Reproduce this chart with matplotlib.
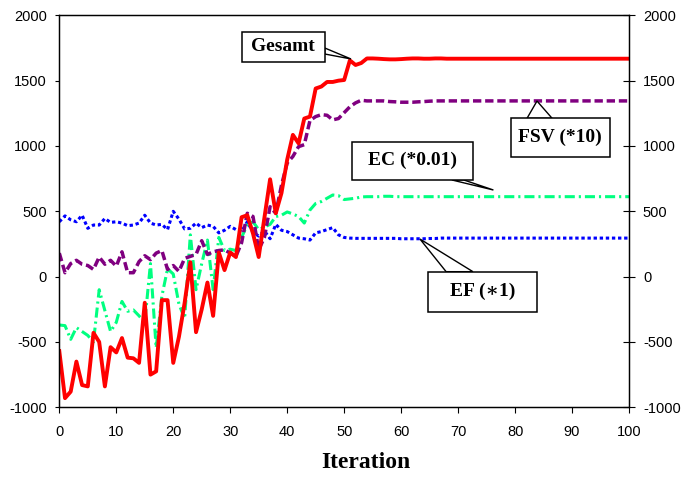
import matplotlib
matplotlib.use("Agg")
import matplotlib.pyplot as plt
from matplotlib.patches import Rectangle, Polygon
import numpy as np

plt.rcParams['axes.unicode_minus'] = False

iterations = np.arange(0, 101)

gesamt = [-570, -930, -880, -650, -830, -840, -430, -500, -840, -540,
          -580, -470, -620, -625, -660, -200, -750, -725, -180, -180,
          -660, -460, -200, 110, -425, -250, -45, -300, 185, 50,
          185, 150, 455, 470, 330, 150, 450, 745, 485, 640,
          895, 1085, 1020, 1210, 1225, 1440, 1455, 1490, 1490, 1500,
          1505, 1655, 1620, 1635, 1670, 1670, 1668, 1665, 1663, 1663,
          1665, 1668, 1670, 1670, 1668, 1668, 1670, 1670, 1668, 1668,
          1668, 1668, 1668, 1668, 1668, 1668, 1668, 1668, 1668, 1668,
          1668, 1668, 1668, 1668, 1668, 1668, 1668, 1668, 1668, 1668,
          1668, 1668, 1668, 1668, 1668, 1668, 1668, 1668, 1668, 1668,
          1668]

fsv = [180, 30, 100, 125, 95, 85, 55, 150, 95, 125,
       80, 190, 30, 30, 115, 160, 130, 180, 200, 55,
       85, 40, 140, 155, 170, 275, 170, 190, 200, 205,
       180, 155, 260, 485, 460, 205, 300, 535, 485, 700,
       870, 920, 995, 1010, 1195, 1225, 1240, 1235, 1200, 1210,
       1255, 1300, 1330, 1350, 1345, 1345, 1345, 1345, 1340, 1338,
       1335, 1335, 1335, 1338, 1340, 1343, 1345, 1345, 1345, 1345,
       1345, 1345, 1345, 1345, 1345, 1345, 1345, 1345, 1345, 1345,
       1345, 1345, 1345, 1345, 1345, 1345, 1345, 1345, 1345, 1345,
       1345, 1345, 1345, 1345, 1345, 1345, 1345, 1345, 1345, 1345,
       1345]

ec = [-370, -375, -480, -390, -420, -450, -500, -100, -260, -420,
      -350, -190, -265, -255, -300, -350, 100, -545, -150, 60,
      20, -210, -320, 320, -100, 100, 280, -100, 300, 200,
      210, 200, 300, 400, 420, 360, 380, 400, 460, 470,
      495, 480, 460, 410, 510, 560, 575, 600, 625, 620,
      590, 595, 600, 610, 612, 612, 612, 615, 615, 612,
      612, 612, 612, 612, 612, 612, 612, 612, 612, 612,
      612, 612, 612, 612, 612, 612, 612, 612, 612, 612,
      612, 612, 612, 612, 612, 612, 612, 612, 612, 612,
      612, 612, 612, 612, 612, 612, 612, 612, 612, 612,
      612]

ef = [420, 465, 435, 420, 470, 370, 395, 395, 445, 415,
      420, 410, 390, 395, 410, 470, 410, 395, 400, 360,
      500, 440, 365, 370, 410, 375, 395, 385, 335, 355,
      385, 360, 345, 420, 340, 310, 350, 290, 400, 355,
      345, 320, 295, 290, 280, 335, 345, 360, 375, 320,
      300, 295, 293, 293, 293, 293, 293, 293, 293, 293,
      290, 290, 290, 290, 290, 292, 292, 295, 295, 295,
      295, 295, 295, 295, 295, 295, 295, 295, 295, 295,
      295, 295, 295, 295, 295, 295, 295, 295, 295, 295,
      295, 295, 295, 295, 295, 295, 295, 295, 295, 295,
      295]

y_ticks = [-1000, -500, 0, 500, 1000, 1500, 2000]
x_ticks = list(range(0, 101, 10))

# callout boxes (x0, x1, y0, y1) and wedge (base1, base2, tip), data units
labels = ['Gesamt', 'FSV (*10)', 'EC (*0.01)', 'EF (\u22171)']
boxes = [(32.0, 46.6, 1645, 1875),
         (79.2, 96.7, 918, 1212),
         (51.3, 72.6, 740, 1033),
         (64.7, 83.9, -268, 38)]
wedges = [((46.6, 1750), (46.6, 1704), (51.2, 1666)),
          ((82.1, 1212), (86.5, 1212), (83.85, 1344)),
          ((68.9, 740), (71.0, 740), (76.2, 663)),
          ((67.9, 38), (72.6, 38), (63.3, 288))]

fig = plt.figure(figsize=(6.84, 4.79), dpi=100)
ax = fig.add_axes([0.0867, 0.1497, 0.8329, 0.8183])

ax.plot(iterations, ef, color='#0000ff', lw=2.2, linestyle=(0, (1.1, 0.9)),
        dash_capstyle='butt')
ax.plot(iterations, ec, color='#00ff80', lw=2.2,
        linestyle=(0, (3.3, 1.3, 0.7, 1.3)))
ax.plot(iterations, fsv, color='#800080', lw=2.5, linestyle=(0, (2.4, 1.1)))
ax.plot(iterations, gesamt, color='#ff0000', lw=2.8)

ax.set_xlim(0, 100)
ax.set_ylim(-1000, 2000)
ax.set_xticks(x_ticks)
ax.set_yticks(y_ticks)

for s in ax.spines.values():
    s.set_linewidth(0.9)

ax.tick_params(axis='y', direction='out', length=3, pad=6, labelsize=10.5)
ax.tick_params(axis='x', direction='out', length=4.5, pad=8, labelsize=10.5)
for lab in ax.get_xticklabels() + ax.get_yticklabels():
    lab.set_fontfamily('Liberation Sans')

ax2 = ax.twinx()
ax2.set_ylim(-1000, 2000)
ax2.set_yticks(y_ticks)
ax2.tick_params(axis='y', direction='inout', length=8, pad=6, labelsize=10.5)
for lab in ax2.get_yticklabels():
    lab.set_fontfamily('Liberation Sans')
for s in ax2.spines.values():
    s.set_linewidth(0.9)

for text, (x0, x1, y0, y1), w in zip(labels, boxes, wedges):
    ax2.add_patch(Polygon(w, closed=True, fc='white', ec='black', lw=1,
                          zorder=8, clip_on=False))
    ax2.add_patch(Rectangle((x0, y0), x1 - x0, y1 - y0, fc='white',
                            ec='black', lw=1.1, zorder=9, clip_on=False))
    ax2.text((x0 + x1) / 2, (y0 + y1) / 2, text, ha='center', va='center',
             family=['Liberation Serif', 'DejaVu Serif'], weight='bold',
             size=14, zorder=10)

fig.text(366 / 684, 1 - 463 / 479, 'Iteration', ha='center', va='center',
         family='Liberation Serif', weight='bold', size=17)

fig.savefig('out.png', dpi=100)
